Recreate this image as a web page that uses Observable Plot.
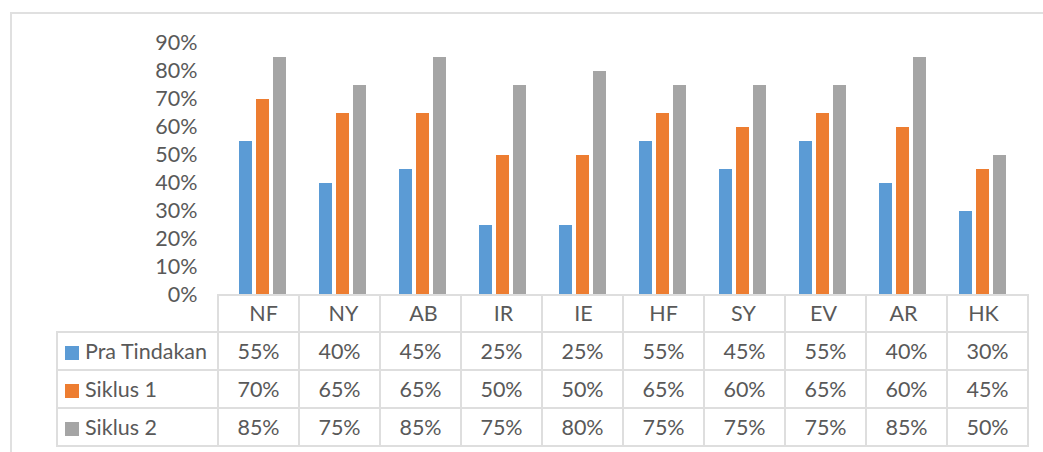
<!DOCTYPE html>
<html>
<head>
<meta charset="utf-8">
<script src="https://cdn.jsdelivr.net/npm/d3@7"></script>
<script src="https://cdn.jsdelivr.net/npm/@observablehq/plot@0.6"></script>
<style>
  html, body { margin: 0; padding: 0; background: #fff; }
  #wrap { position: relative; width: 1043px; height: 452px; overflow: hidden; background: #fff; font-family: Lato, "Open Sans", sans-serif; }
  #frame { position: absolute; left: 10px; top: 12px; width: 1200px; height: 600px; border: 2px solid #e0e0e0; box-sizing: border-box; }
  #chart { position: absolute; left: 0; top: 0; }
  #tbl { position: absolute; left: 56px; top: 294px; border-collapse: collapse; table-layout: fixed; color: #595959; font-size: 21.5px; font-family: Lato, "Open Sans", sans-serif; }
  #tbl td { border: 2px solid #dedede; padding: 0; text-align: center; vertical-align: middle; white-space: nowrap; overflow: hidden; }
  #tbl tr.head td { height: 35px; }
  #tbl tr.body td { height: 36px; }
  #tbl td.blank { border-top: none; border-left: none; }
  #tbl td.legend { text-align: left; padding-left: 7px; }
  #tbl .key { display: inline-block; width: 14px; height: 14px; margin-right: 6px; vertical-align: -1px; }
</style>
</head>
<body>
<div id="wrap">
  <div id="frame"></div>
  <div id="chart"></div>
  <table id="tbl"></table>
</div>
<script>
// ---- data ----
const categories = ["NF", "NY", "AB", "IR", "IE", "HF", "SY", "EV", "AR", "HK"];
const seriesNames = ["Pra Tindakan", "Siklus 1", "Siklus 2"];
const praTindakan = [0.55, 0.40, 0.45, 0.25, 0.25, 0.55, 0.45, 0.55, 0.40, 0.30];
const siklus1     = [0.70, 0.65, 0.65, 0.50, 0.50, 0.65, 0.60, 0.65, 0.60, 0.45];
const siklus2     = [0.85, 0.75, 0.85, 0.75, 0.80, 0.75, 0.75, 0.75, 0.85, 0.50];
const yTicks = [0, 0.1, 0.2, 0.3, 0.4, 0.5, 0.6, 0.7, 0.8, 0.9];

// ---- build ----
const seriesValues = [praTindakan, siklus1, siklus2];
const rows = seriesNames.flatMap((s, j) =>
  categories.map((c, i) => ({ name: c, series: s, value: seriesValues[j][i] })));
const colors = ["#5B9BD5", "#ED7D31", "#A5A5A5"];
const fmt = d3.format(".0%");

const plot = Plot.plot({
  width: 1043,
  height: 335,
  marginLeft: 218,
  marginRight: 16,
  marginTop: 43,
  marginBottom: 40,
  style: { background: "transparent", fontFamily: "Lato, 'Open Sans', sans-serif", fontSize: "21.5px", color: "#595959", overflow: "visible" },
  fx: { domain: categories, padding: 0, label: null },
  x: { domain: seriesNames, paddingInner: 0.222, paddingOuter: 0.861, axis: null },
  y: { domain: [0, 0.9], label: null },
  color: { domain: seriesNames, range: colors },
  marks: [
    Plot.barY(rows, { fx: "name", x: "series", y: "value", fill: "series" }),
    Plot.axisY({ ticks: yTicks, tickFormat: fmt, tickSize: 0, tickPadding: 26, label: null }),
    Plot.axisFx({ anchor: "bottom", tickSize: 0, tickPadding: 10, label: null })
  ]
});
document.getElementById("chart").appendChild(plot);

// ---- data table below the chart ----
const colorScale = plot.scale("color");
const tbl = document.getElementById("tbl");
const cg = document.createElement("colgroup");
const c0 = document.createElement("col"); c0.style.width = "161px"; cg.appendChild(c0);
categories.forEach(() => { const c = document.createElement("col"); c.style.width = "81px"; cg.appendChild(c); });
tbl.appendChild(cg);
const head = document.createElement("tr"); head.className = "head";
const blank = document.createElement("td"); blank.className = "blank"; head.appendChild(blank);
categories.forEach(() => head.appendChild(document.createElement("td")));
tbl.appendChild(head);
seriesNames.forEach((s, j) => {
  const tr = document.createElement("tr"); tr.className = "body";
  const td = document.createElement("td"); td.className = "legend";
  const key = document.createElement("span"); key.className = "key";
  key.style.background = colorScale.range[colorScale.domain.indexOf(s)];
  td.appendChild(key);
  td.appendChild(document.createTextNode(s));
  tr.appendChild(td);
  seriesValues[j].forEach(v => { const c = document.createElement("td"); c.textContent = fmt(v); tr.appendChild(c); });
  tbl.appendChild(tr);
});
</script>
</body>
</html>
